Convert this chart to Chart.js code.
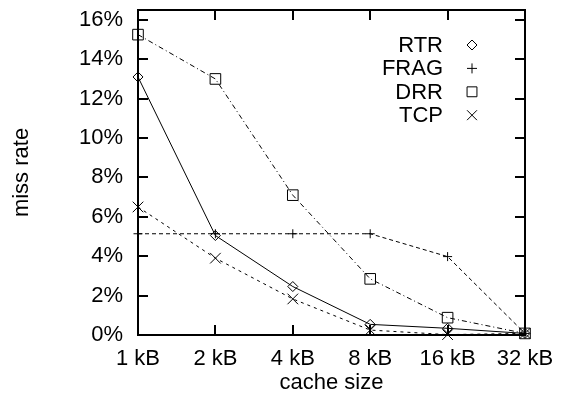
<!DOCTYPE html>
<html>
<head>
<meta charset="utf-8">
<script src="https://cdn.jsdelivr.net/npm/chart.js@4/dist/chart.umd.min.js"></script>
<style>
  html, body { margin: 0; padding: 0; background: #fff; }
  #wrap { width: 564px; height: 397px; position: relative; }
</style>
</head>
<body>
<div id="wrap"><canvas id="c" width="564" height="397"></canvas></div>
<script>
// Cache sizes on the x axis
const cacheSizes = ['1 kB', '2 kB', '4 kB', '8 kB', '16 kB', '32 kB'];

// Miss rate (%) per scheme
const rtr  = [13.1, 5.05, 2.46, 0.54, 0.34, 0.08];
const frag = [5.14, 5.14, 5.14, 5.14, 3.98, 0.08];
const drr  = [15.25, 13.0, 7.1, 2.85, 0.88, 0.08];
const tcp  = [6.5, 3.9, 1.83, 0.25, 0.02, 0.08];

// Y tick values (percent)
const yTicks = [0, 2, 4, 6, 8, 10, 12, 14, 16];

const FONT = '"Liberation Sans", Arial, Helvetica, sans-serif';
const FS = 22;

function drawMarker(ctx, style, x, y, r) {
  ctx.beginPath();
  if (style === 'rectRot') {
    ctx.moveTo(x - r, y); ctx.lineTo(x, y - r); ctx.lineTo(x + r, y); ctx.lineTo(x, y + r); ctx.closePath();
  } else if (style === 'cross') {
    ctx.moveTo(x - r, y); ctx.lineTo(x + r, y); ctx.moveTo(x, y - r); ctx.lineTo(x, y + r);
  } else if (style === 'rect') {
    const s = Math.SQRT1_2 * r;
    ctx.rect(x - s, y - s, 2 * s, 2 * s);
  } else if (style === 'crossRot') {
    const s = Math.SQRT1_2 * r;
    ctx.moveTo(x - s, y - s); ctx.lineTo(x + s, y + s); ctx.moveTo(x - s, y + s); ctx.lineTo(x + s, y - s);
  }
  ctx.stroke();
}

// Frame with inward tick marks on all four sides, plus the key in the upper right
const framePlugin = {
  id: 'frame',
  beforeDatasetsDraw(chart) {
    const { ctx, chartArea: a, scales } = chart;
    ctx.save();
    ctx.strokeStyle = '#000';
    ctx.lineWidth = 2;
    ctx.beginPath();
    const tl = 10;
    yTicks.forEach(v => {
      const y = Math.round(scales.y.getPixelForValue(v));
      ctx.moveTo(a.left, y); ctx.lineTo(a.left + tl, y);
      ctx.moveTo(a.right, y); ctx.lineTo(a.right - tl, y);
    });
    cacheSizes.forEach((c, i) => {
      const x = Math.round(scales.x.getPixelForValue(i));
      ctx.moveTo(x, a.bottom); ctx.lineTo(x, a.bottom - tl);
      ctx.moveTo(x, a.top); ctx.lineTo(x, a.top + tl);
    });
    ctx.stroke();
    ctx.strokeRect(a.left, a.top, a.right - a.left, a.bottom - a.top);
    ctx.restore();
  },
  afterDraw(chart) {
    const { ctx, chartArea: a } = chart;
    ctx.save();
    ctx.font = FS + 'px ' + FONT;
    ctx.fillStyle = '#000';
    ctx.textAlign = 'right';
    ctx.textBaseline = 'middle';
    const textX = a.right - 82, markX = a.right - 53;
    chart.data.datasets.forEach((ds, i) => {
      const y = a.top + 35 + i * 23.4;
      ctx.fillText(ds.label, textX, y + 1);
      ctx.strokeStyle = '#000';
      ctx.lineWidth = 1;
      drawMarker(ctx, ds.pointStyle, markX, y, ds.legendRadius);
    });
    ctx.restore();
  }
};

function series(label, data, dash, style, radius, keyRadius) {
  return {
    label, data,
    borderColor: '#000', borderWidth: 1, borderDash: dash,
    pointStyle: style, pointRadius: radius, pointHoverRadius: radius,
    pointBorderColor: '#000', pointBackgroundColor: 'rgba(0,0,0,0)', pointBorderWidth: 1,
    legendRadius: keyRadius, tension: 0, fill: false, clip: false
  };
}

new Chart(document.getElementById('c'), {
  type: 'line',
  data: {
    labels: cacheSizes,
    datasets: [
      series('RTR', rtr, [], 'rectRot', 5, 5),
      series('FRAG', frag, [4, 3], 'cross', 4.5, 5),
      series('DRR', drr, [5, 3, 1, 3], 'rect', 7.5, 7),
      series('TCP', tcp, [3, 4], 'crossRot', 7.5, 7)
    ]
  },
  options: {
    responsive: false,
    animation: false,
    events: [],
    layout: { padding: { top: 10, right: 39, left: 0, bottom: 0 } },
    plugins: { legend: { display: false }, tooltip: { enabled: false } },
    scales: {
      x: {
        type: 'category',
        offset: false,
        grid: { display: false, drawTicks: false },
        border: { display: false },
        ticks: { color: '#000', font: { family: FONT, size: FS }, padding: 11, maxRotation: 0, autoSkip: false },
        title: { display: true, text: 'cache size', color: '#000', font: { family: FONT, size: FS }, padding: { top: 0, bottom: 1 } },
        afterFit(s) { s.height = 62; s.paddingLeft = 0; s.paddingRight = 0; }
      },
      y: {
        min: 0, max: 16.5,
        grid: { display: false, drawTicks: false },
        border: { display: false },
        ticks: { color: '#000', font: { family: FONT, size: FS }, padding: 15, stepSize: 2, callback: v => v + '%' },
        afterBuildTicks(s) { s.ticks = yTicks.map(v => ({ value: v })); },
        title: { display: true, text: 'miss rate', color: '#000', font: { family: FONT, size: FS }, padding: { top: 9, bottom: 0 } },
        afterFit(s) { s.width = 138; s.paddingTop = 0; s.paddingBottom = 0; }
      }
    }
  },
  plugins: [framePlugin]
});
</script>
</body>
</html>
